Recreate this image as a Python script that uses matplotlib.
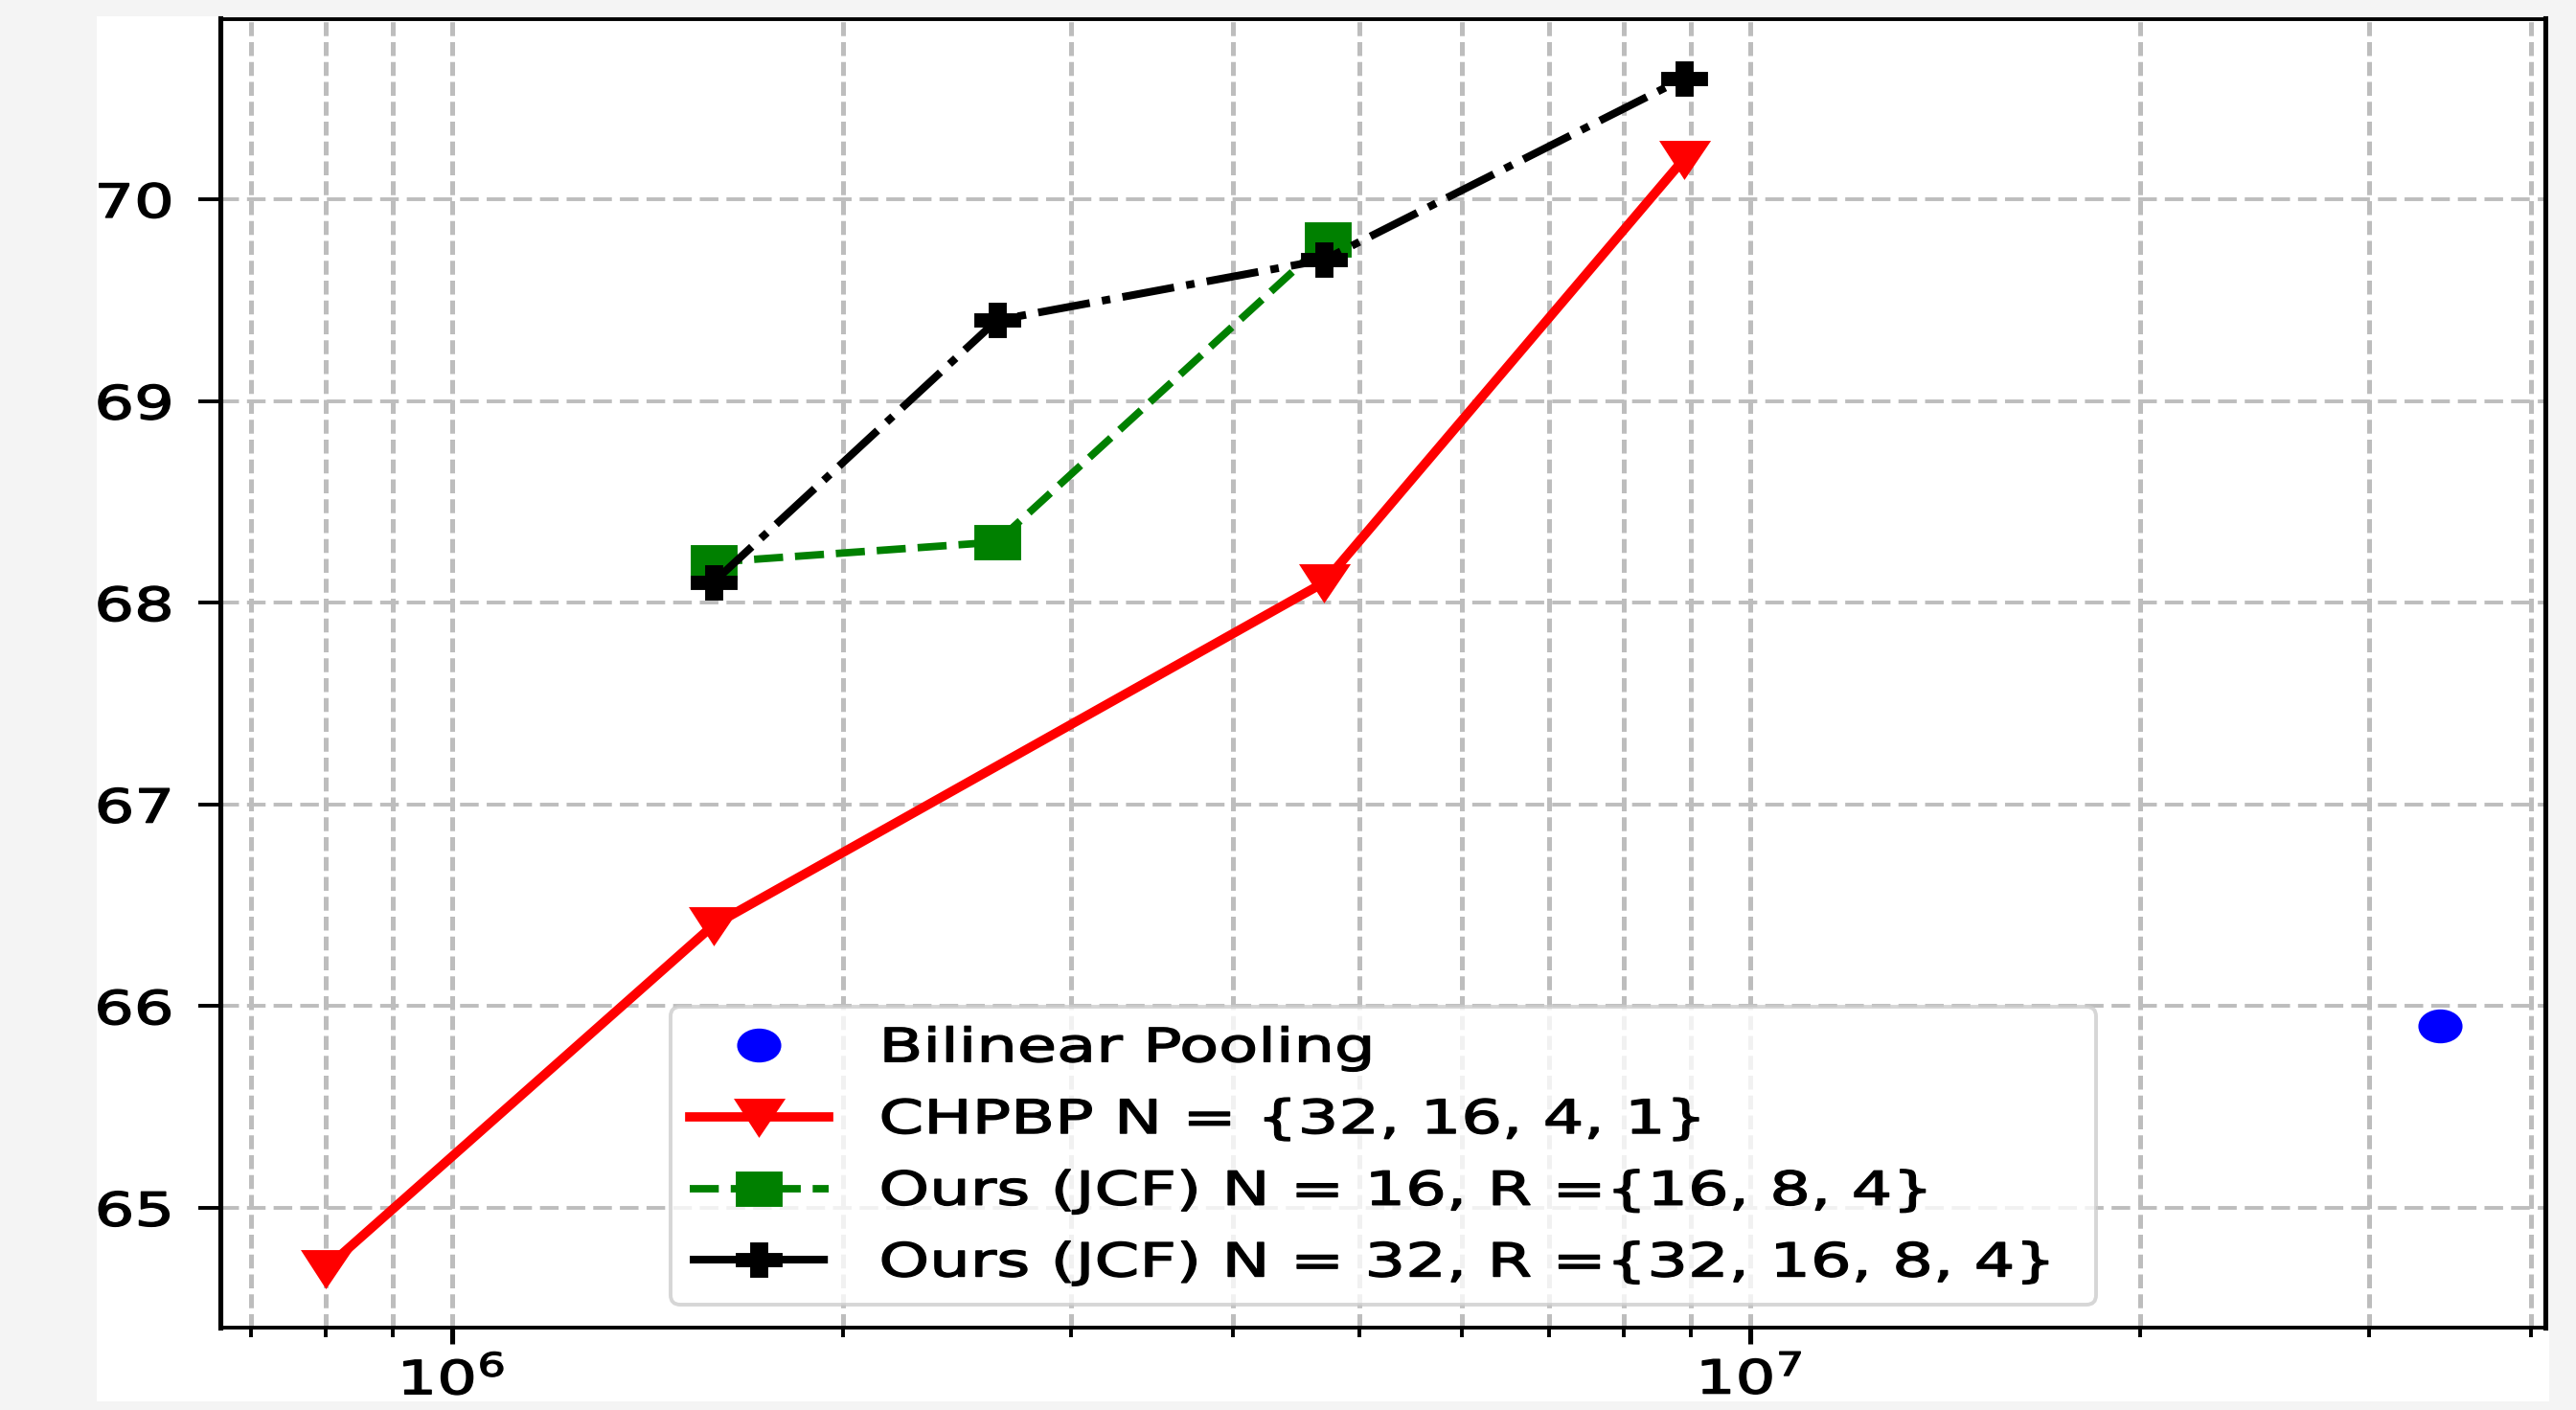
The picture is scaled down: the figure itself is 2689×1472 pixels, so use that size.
import matplotlib
matplotlib.use("Agg")
import matplotlib.pyplot as plt
from matplotlib.markers import MarkerStyle
from matplotlib.transforms import Affine2D
from matplotlib.patches import Rectangle
from matplotlib.patheffects import AbstractPathEffect

# number of parameters vs accuracy
bilinear_params = [3.4e7]
bilinear_acc = [65.9]

chpbp_params = [8.0e5, 1.59e6, 4.7e6, 8.9e6]
chpbp_acc = [64.7, 66.4, 68.1, 70.2]

jcf16_params = [1.59e6, 2.63e6, 4.73e6]
jcf16_acc = [68.2, 68.3, 69.8]

jcf32_params = [1.59e6, 2.63e6, 4.7e6, 8.9e6]
jcf32_acc = [68.1, 69.4, 69.7, 70.6]

labels = [
    "Bilinear Pooling",
    "CHPBP N = {32, 16, 4, 1}",
    "Ours (JCF) N = 16, R ={16, 8, 4}",
    "Ours (JCF) N = 32, R ={32, 16, 8, 4}",
]

W, H = 2689, 1472
SX = 1.35  # the reference is stretched sideways


def wide(m):
    return MarkerStyle(m, transform=Affine2D().scale(SX, 1.0))


class Stretch(AbstractPathEffect):
    """draw text glyphs wider, keeping the given side fixed"""

    def __init__(self, sx, anchor="left", bold=1.0):
        super().__init__()
        self.sx = sx
        self.anchor = anchor
        self.bold = bold

    def draw_path(self, renderer, gc, tpath, affine, rgbFace=None):
        ext = tpath.get_extents()
        if self.anchor == "right":
            x0 = ext.x1
        elif self.anchor == "center":
            x0 = 0.5 * (ext.x0 + ext.x1)
        else:
            x0 = 0.0
        tr = Affine2D().translate(-x0, 0).scale(self.sx, 1.0).translate(x0, 0) + affine
        gc0 = renderer.new_gc()
        gc0.copy_properties(gc)
        gc0.set_linewidth(self.bold)
        gc0.set_foreground(rgbFace)
        gc0.set_joinstyle("round")
        renderer.draw_path(gc0, tpath, tr, rgbFace)
        gc0.restore()


def main():
    plt.rcParams["lines.markeredgewidth"] = 3.5
    fig = plt.figure(figsize=(W / 100, H / 100), dpi=100, facecolor="#f4f4f4")
    fig.add_artist(Rectangle((101 / W, 9 / H), 2560 / W, 1446 / H, transform=fig.transFigure,
                             facecolor="white", edgecolor="none", zorder=0))
    ax = fig.add_axes([230 / W, 86 / H, 2427 / W, 1366.5 / H])
    ax.set_xscale("log")

    ax.plot(bilinear_params, bilinear_acc, linestyle="none", marker=wide("o"), color="blue",
            markersize=22, label=labels[0])
    ax.plot(chpbp_params, chpbp_acc, "-", marker=wide("v"), color="red", lw=7.0,
            markersize=24, label=labels[1])
    ax.plot(jcf16_params, jcf16_acc, linestyle=(0, (3.9, 1.6)), marker=wide("s"), color="green",
            lw=5.6, markersize=23, label=labels[2])
    ax.plot(jcf32_params, jcf32_acc, linestyle=(0, (6.8, 1.6, 1.1, 1.6)), marker=wide("P"),
            color="black", lw=5.8, markersize=23, label=labels[3])

    ax.grid(True, which="both", axis="x", color="#bdbdbd", linewidth=3.6, linestyle=(0, (2.9, 1.25)))
    ax.grid(True, which="major", axis="y", color="#bdbdbd", linewidth=2.8, linestyle=(0, (5.0, 2.15)))

    ax.tick_params(axis="y", which="major", length=16.5, width=2.8, pad=19, labelsize=35)
    ax.tick_params(axis="x", which="major", length=12.2, width=3.7, pad=10, labelsize=35)
    ax.tick_params(axis="x", which="minor", length=7, width=2.8)
    for side in ["left", "right"]:
        ax.spines[side].set_linewidth(3.7)
    for side in ["top", "bottom"]:
        ax.spines[side].set_linewidth(2.8)

    leg = ax.legend(loc="lower left", bbox_to_anchor=(0.1937, 0.0176, 0.613, 0.233), mode="expand",
                    borderaxespad=0, fontsize=35, handlelength=3.0, handletextpad=1.07,
                    labelspacing=0.55, borderpad=0.4)
    leg.get_frame().set_linewidth(2.8)

    fig.canvas.draw()
    for t in ax.xaxis.get_major_ticks() + ax.xaxis.get_minor_ticks():
        t.label1.set_path_effects([Stretch(SX, "center")])
    for t in ax.yaxis.get_major_ticks():
        t.label1.set_path_effects([Stretch(SX, "right")])
    for txt in leg.get_texts():
        txt.set_path_effects([Stretch(1.38, "left")])

    fig.savefig("out.png", dpi=100, facecolor=fig.get_facecolor())
    plt.close()


if __name__ == "__main__":
    main()
